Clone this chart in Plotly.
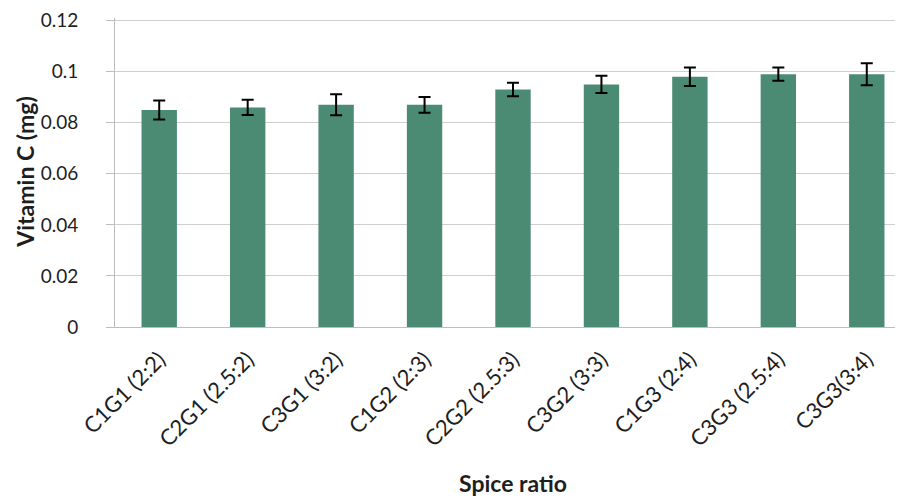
import plotly.graph_objects as go

categories = ["C1G1 (2:2)", "C2G1 (2.5:2)", "C3G1 (3:2)", "C1G2 (2:3)", "C2G2 (2.5:3)",
              "C3G2 (3:3)", "C1G3 (2:4)", "C3G3 (2.5:4)", "C3G3(3:4)"]
vitamin_c = [0.085, 0.086, 0.087, 0.087, 0.093, 0.095, 0.098, 0.099, 0.099]
errors = [0.0037, 0.0030, 0.0041, 0.0031, 0.0026, 0.0034, 0.0036, 0.0026, 0.0043]
y_ticks = [0, 0.02, 0.04, 0.06, 0.08, 0.1, 0.12]
y_tick_labels = ["0", "0.02", "0.04", "0.06", "0.08", "0.1", "0.12"]

FONT = "Lato, 'Open Sans', sans-serif"
TXT = "#1e1e1e"

fig = go.Figure(go.Bar(
    x=list(range(len(categories))),
    y=vitamin_c,
    marker=dict(color="#4b8b73", line=dict(width=0)),
    error_y=dict(type="data", array=errors, visible=True, color="black", thickness=2, width=6),
    width=0.4,
))

fig.update_layout(
    width=903, height=502,
    margin=dict(l=107, r=0, t=8, b=183),
    paper_bgcolor="white", plot_bgcolor="white",
    font=dict(family=FONT, size=20, color=TXT),
    showlegend=False,
    xaxis=dict(
        tickmode="array", tickvals=list(range(len(categories))), ticktext=categories,
        tickangle=-45, range=[-0.5, 8.5], showgrid=False,
        showline=True, linecolor="#bdbdbd", linewidth=1,
        ticks="", tickfont=dict(size=22, color=TXT), ticklabelstandoff=10,
        ticklabeloverflow="allow",
    ),
    yaxis=dict(
        range=[0, 0.121], tickmode="array", tickvals=y_ticks, ticktext=y_tick_labels,
        showgrid=True, gridcolor="#cfcfcf", gridwidth=1,
        showline=True, linecolor="#bdbdbd", linewidth=1,
        ticks="outside", ticklen=8, tickcolor="#bdbdbd",
        tickfont=dict(size=19, color=TXT), zeroline=False, ticklabelstandoff=24,
        ticklabeloverflow="allow",
    ),
    annotations=[
        dict(text="<b>Spice ratio</b>", xref="paper", yref="paper", x=0.5, y=-0.505,
             showarrow=False, font=dict(size=23, color=TXT), xanchor="center", yanchor="middle"),
        dict(text="<b>Vitamin C (mg)</b>", xref="paper", yref="paper", x=-0.1140, y=0.5,
             showarrow=False, textangle=-90, font=dict(size=23, color=TXT),
             xanchor="center", yanchor="middle"),
    ],
)

fig.write_html("out.html")
